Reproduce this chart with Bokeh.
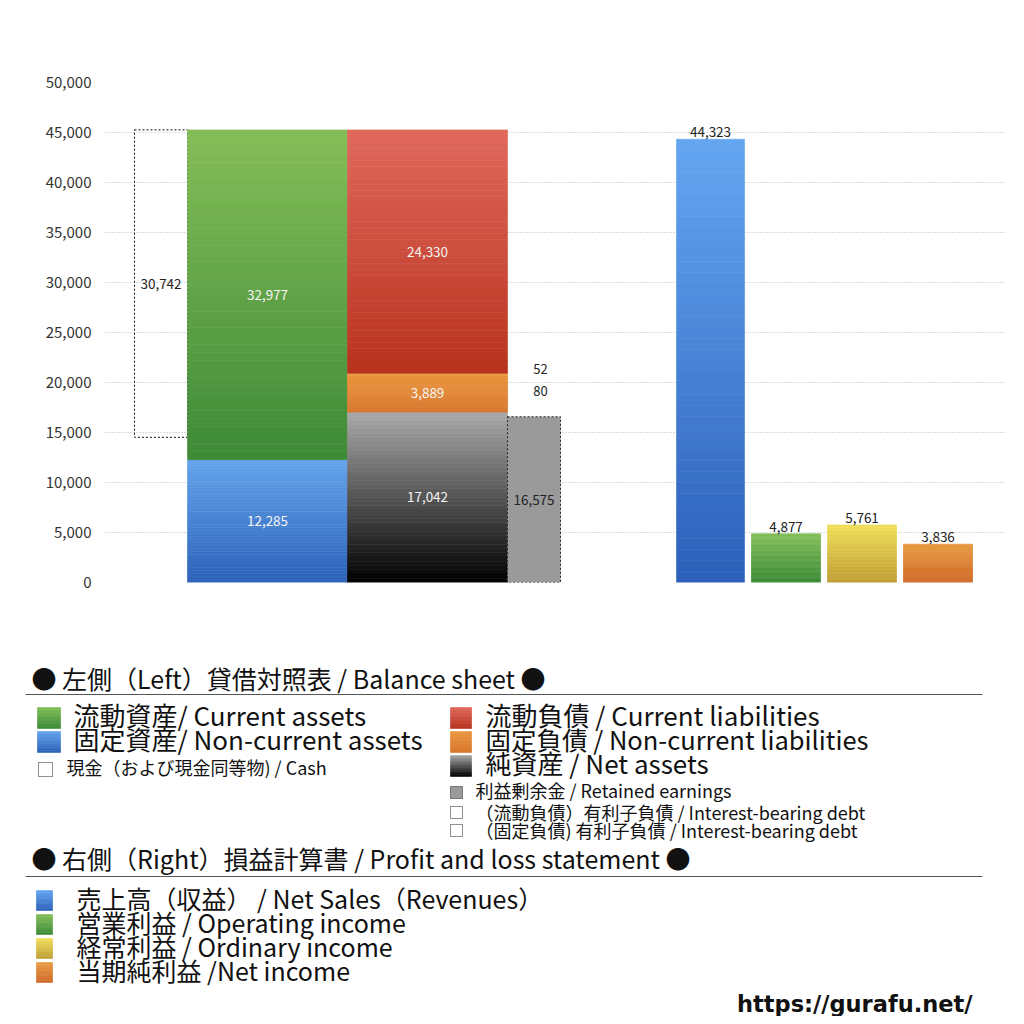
import numpy as np
from bokeh.plotting import figure
from bokeh.layouts import column
from bokeh.models import Range1d, SingleIntervalTicker, NumeralTickFormatter
from bokeh.core.properties import value
from bokeh.embed import file_html
from bokeh.resources import INLINE

# ---------------- data ----------------
bs_names = ["現金", "流動資産", "固定資産", "流動負債", "固定負債", "純資産", "利益剰余金"]
cash = 30742
current_assets = 32977
noncurrent_assets = 12285
current_liabilities = 24330
noncurrent_liabilities = 3889
net_assets = 17042
retained_earnings = 16575
interest_bearing_debt = [52, 80]          # (current), (non-current)

pl_names = ["売上高", "営業利益", "経常利益", "当期純利益"]
pl_values = [44323, 4877, 5761, 3836]

y_ticks_interval = 5000

FONT = value("Noto Sans CJK JP")


def hex2rgb(h):
    h = h.lstrip("#")
    return tuple(int(h[i:i + 2], 16) for i in (0, 2, 4))


def mix(c1, c2, t):
    a, b = hex2rgb(c1), hex2rgb(c2)
    return "#%02x%02x%02x" % tuple(int(round(a[i] + (b[i] - a[i]) * t)) for i in range(3))


def grad(fig, x0, x1, y_top, y_bot, c_top, c_bot, n=40):
    edges = np.linspace(y_top, y_bot, n + 1)
    cols = [mix(c_top, c_bot, (i + 0.5) / n) for i in range(n)]
    fig.quad(left=[x0] * n, right=[x1] * n, top=list(edges[:-1]), bottom=list(edges[1:]),
             fill_color=cols, line_color=cols, line_width=0.6)


# ---------------- chart ----------------
p = figure(width=1016, height=620, output_backend="svg", toolbar_location=None,
           x_range=Range1d(0, 902), y_range=Range1d(0, 50000),
           min_border_left=103, min_border_right=11, min_border_top=82, min_border_bottom=38)
p.outline_line_color = None
p.xaxis.visible = False
p.xgrid.visible = False
p.ygrid.ticker = SingleIntervalTicker(interval=y_ticks_interval)
p.ygrid.grid_line_color = "#b8b8b8"
p.ygrid.grid_line_dash = "1 2"
p.yaxis.ticker = SingleIntervalTicker(interval=y_ticks_interval)
p.yaxis.formatter = NumeralTickFormatter(format="0,0")
p.yaxis.axis_line_color = None
p.yaxis.major_tick_line_color = None
p.yaxis.minor_tick_line_color = None
p.yaxis.major_tick_out = 0
p.yaxis.major_label_standoff = 8
p.yaxis.major_label_text_font = "Noto Sans CJK JP"
p.yaxis.major_label_text_font_size = "15px"
p.yaxis.major_label_text_color = "#333333"

total_assets = current_assets + noncurrent_assets
total_liab = net_assets + noncurrent_liabilities + current_liabilities

# positions (layout)
X_CASH = (31, 84)
X_ASSET = (84, 244)
X_LIAB = (244, 404)
X_RET = (404, 457)
X_PL = [(573, 641), (648, 717), (724, 793), (800, 869)]

# cash (dotted outline)
p.quad(left=[X_CASH[0]], right=[X_CASH[1]], top=[total_assets], bottom=[total_assets - cash],
       fill_color=None, line_color="#111111", line_dash="2 2", line_width=1)

# assets
grad(p, X_ASSET[0], X_ASSET[1], noncurrent_assets, 0, "#64a4ec", "#2c62b9")
grad(p, X_ASSET[0], X_ASSET[1], total_assets, noncurrent_assets, "#85be58", "#3d8a37")

# liabilities & net assets
grad(p, X_LIAB[0], X_LIAB[1], net_assets, 0, "#aaaaaa", "#000000")
grad(p, X_LIAB[0], X_LIAB[1], net_assets + noncurrent_liabilities, net_assets, "#ea973f", "#d9752b")
grad(p, X_LIAB[0], X_LIAB[1], total_liab, net_assets + noncurrent_liabilities, "#e0695c", "#b8321d")

# retained earnings
p.quad(left=[X_RET[0]], right=[X_RET[1]], top=[retained_earnings], bottom=[0],
       fill_color="#9a9a9a", line_color="#222222", line_dash="2 2", line_width=1)

# P&L bars
pl_colors = [("#64a6f2", "#2c60ba"), ("#84bf58", "#3b8a36"),
             ("#f2df58", "#bf9e33"), ("#e89a42", "#d06a28")]
for (x0, x1), v, (ct, cb) in zip(X_PL, pl_values, pl_colors):
    grad(p, x0, x1, v, 0, ct, cb)

# value labels inside bars
in_x = [sum(X_ASSET) / 2, sum(X_ASSET) / 2, sum(X_LIAB) / 2, sum(X_LIAB) / 2, sum(X_LIAB) / 2]
in_y = [noncurrent_assets / 2, noncurrent_assets + current_assets / 2,
        net_assets / 2, net_assets + noncurrent_liabilities / 2,
        net_assets + noncurrent_liabilities + current_liabilities / 2]
in_t = [f"{v:,}" for v in [noncurrent_assets, current_assets, net_assets,
                            noncurrent_liabilities, current_liabilities]]
p.text(x=in_x, y=in_y, text=in_t, text_font=FONT, text_font_size="13.5px",
       text_color="#f4f4f4", text_align="center", text_baseline="middle")

p.text(x=[sum(X_CASH) / 2, sum(X_RET) / 2],
       y=[total_assets - cash / 2, retained_earnings / 2],
       text=[f"{cash:,}", f"{retained_earnings:,}"], text_font=FONT, text_font_size="13.5px",
       text_color="#222222", text_align="center", text_baseline="middle")

# interest-bearing debt labels
ib_label_y = [21400, 19200]
p.text(x=[437, 437], y=ib_label_y, text=[f"{v:,}" for v in interest_bearing_debt],
       text_font=FONT, text_font_size="13px", text_color="#222222",
       text_align="center", text_baseline="middle")

# P&L labels
p.text(x=[(a + b) / 2 for a, b in X_PL], y=pl_values, text=[f"{v:,}" for v in pl_values],
       text_font=FONT, text_font_size="13.5px", text_color="#222222",
       text_align="center", text_baseline="bottom", y_offset=-2)

# ---------------- legend area ----------------
q = figure(width=1016, height=396, output_backend="svg", toolbar_location=None,
           x_range=Range1d(0, 1016), y_range=Range1d(1016, 620),
           min_border=0, min_border_left=0, min_border_right=0,
           min_border_top=0, min_border_bottom=0)
q.outline_line_color = None
q.axis.visible = False
q.grid.visible = False

for f in (p, q):
    if "frame_align" in f.properties():
        f.frame_align = False

DY = -3  # vertical text correction


def txt(x, y, s, size, font=FONT, bold=False):
    q.text(x=[x], y=[y + DY], text=[s], text_font=font, text_font_size=size,
           text_color="#111111", text_baseline="middle", text_align="left",
           text_font_style="bold" if bold else "normal")


txt(31, 680, "● 左側（Left）貸借対照表 / Balance sheet ●", "25px")
q.segment(x0=[25], x1=[982], y0=[694], y1=[694], line_color="#555555", line_width=1)

grad(q, 37, 60, 707, 728, "#84bf58", "#3b8a36", n=12)
grad(q, 37, 60, 731, 752, "#64a4ec", "#2c62b9", n=12)
txt(73, 717, "流動資産/ Current assets", "26px")
txt(73, 741, "固定資産/ Non-current assets", "26px")
q.quad(left=[38], right=[52], top=[762], bottom=[776], fill_color=None,
       line_color="#222222", line_dash="1 1", line_width=1)
txt(66, 769, "現金（および現金同等物) / Cash", "18px")

grad(q, 450, 471, 707, 728, "#e0695c", "#b8321d", n=12)
grad(q, 450, 471, 731, 752, "#ea973f", "#d9752b", n=12)
grad(q, 450, 471, 755, 776, "#aaaaaa", "#000000", n=12)
txt(485, 717, "流動負債 /  Current liabilities", "26px")
txt(485, 741, "固定負債 / Non-current liabilities", "25.5px")
txt(485, 765, "純資産 / Net assets", "26px")

q.quad(left=[450], right=[462], top=[786], bottom=[798], fill_color="#9a9a9a",
       line_color="#222222", line_dash="1 1", line_width=1)
txt(475, 792, "利益剰余金 / Retained earnings", "18px")
q.quad(left=[450], right=[462], top=[806], bottom=[818], fill_color=None,
       line_color="#222222", line_dash="1 1", line_width=1)
txt(475, 814, "（流動負債）有利子負債 / Interest-bearing debt", "18px")
q.quad(left=[450], right=[462], top=[824], bottom=[836], fill_color=None,
       line_color="#222222", line_dash="1 1", line_width=1)
txt(475, 832, "（固定負債) 有利子負債 / Interest-bearing debt", "18px")

txt(31, 860, "● 右側（Right）損益計算書 / Profit and loss statement ●", "25px")
q.segment(x0=[25], x1=[982], y0=[876], y1=[876], line_color="#555555", line_width=1)

for i, (name, lab, (ct, cb)) in enumerate(zip(
        pl_names,
        ["売上高（収益） / Net Sales（Revenues）", "営業利益 / Operating income",
         "経常利益 / Ordinary income", "当期純利益 /Net income"],
        pl_colors)):
    y0 = 890 + 24 * i
    grad(q, 36, 52, y0, y0 + 20, ct, cb, n=12)
    txt(76, y0 + 10, lab, "25px")

q.text(x=[972], y=[1003], text=["https://gurafu.net/"], text_font=value("DejaVu Sans"),
       text_font_size="22.5px", text_color="#111111", text_baseline="middle",
       text_align="right", text_font_style="bold")

layout = column(p, q, spacing=0)
open("out.html", "w").write(file_html(layout, INLINE))
